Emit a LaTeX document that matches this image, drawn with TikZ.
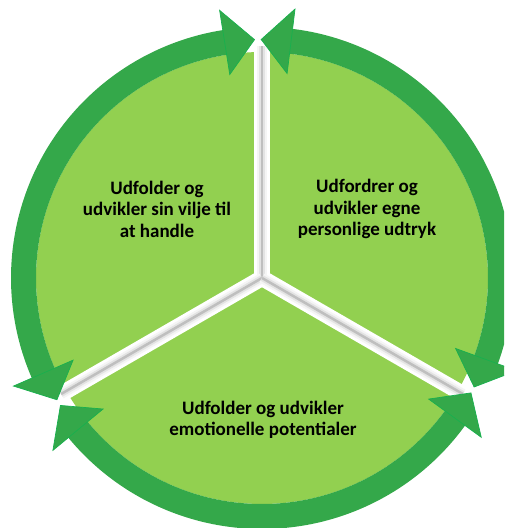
\documentclass[tikz,border=0pt]{standalone}
\usepackage{fontspec}
\setmainfont{Carlito}
\usetikzlibrary{calc, positioning}

\definecolor{sectorgreen}{RGB}{146,208,80}
\definecolor{ringgreen}{RGB}{52,168,74}
\definecolor{tipgreen}{RGB}{24,176,78}

\tikzset{
  sectortext/.style={align=center, text=black,
    font=\fontsize{19}{21.5}\selectfont\bfseries},
  arrowtip/.style={fill=ringgreen, draw=tipgreen, line width=0.7pt, line join=miter}
}

\begin{document}
\begin{tikzpicture}[x=1pt, y=1pt]
  \clip (0,0) rectangle (504,528);
  \coordinate (c) at (262,250);

  \fill[sectorgreen] (c) circle (226);

  \foreach \g in {90, 210, 330}
    \draw[white, line width=16pt] (c) -- ++(\g:236);
  \foreach \g/\n in {90/180, 210/120, 330/60} {
    \draw[gray!8, line width=10pt, shift={(\n+180:0.5)}] (c) -- ++(\g:232);
    \draw[gray!22, line width=6pt, shift={(\n:1.5)}] (c) -- ++(\g:232);
    \draw[gray!50, line width=2.5pt, shift={(\n:3)}] (c) -- ++(\g:232);
  }

  \foreach \a/\b in {-28/91, 91/211.5, 211.5/332} {
    \fill[ringgreen] ($(c)+(\a+7.5:226)$) arc[start angle=\a+7.5, end angle=\b-7.5, radius=226]
      -- ($(c)+(\b-7.5:251)$) arc[start angle=\b-7.5, end angle=\a+7.5, radius=251] -- cycle;
    \filldraw[arrowtip] ($(c)+(\b-8:206)$) -- ($(c)+(\b-0.8:238.5)$) -- ($(c)+(\b-8:271)$) -- cycle;
    \filldraw[arrowtip] ($(c)+(\a+8:206)$) -- ($(c)+(\a+0.8:238.5)$) -- ($(c)+(\a+8:271)$) -- cycle;
  }

  \node[sectortext] (will) at (157,319) {Udfolder og\\udvikler sin vilje til\\at handle};
  \node[sectortext] (expr) at (367,319) {Udfordrer og\\udvikler egne\\personlige udtryk};
  \node[sectortext] (emo) at (263,108) {Udfolder og udvikler\\emotionelle potentialer};
\end{tikzpicture}
\end{document}
